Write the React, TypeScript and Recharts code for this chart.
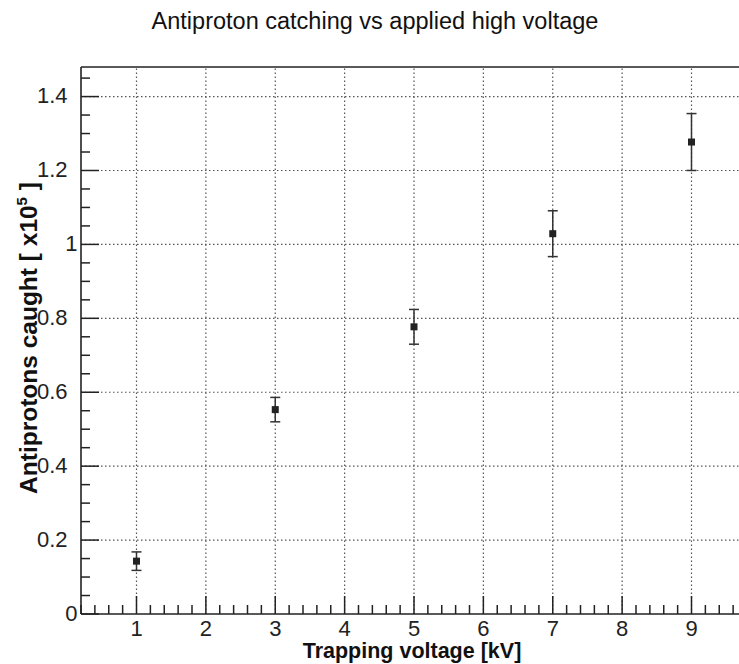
import React from 'react';
import { ScatterChart, Scatter, XAxis, YAxis, ErrorBar, ReferenceLine } from 'recharts';

// measured values (x10^5 antiprotons)
const voltages = [1, 3, 5, 7, 9];
const caught = [0.143, 0.553, 0.777, 1.029, 1.277];
const caughtErr = [0.025, 0.033, 0.047, 0.062, 0.077];

const xMajorTicks = [1, 2, 3, 4, 5, 6, 7, 8, 9];
const xTickLabels = ['1', '2', '3', '4', '5', '6', '7', '8', '9'];
const yMajorTicks = [0, 0.2, 0.4, 0.6, 0.8, 1, 1.2, 1.4];
const yTickLabels = ['0', '0.2', '0.4', '0.6', '0.8', '1', '1.2', '1.4'];

const xDomain: [number, number] = [0.2, 9.8];
const yDomain: [number, number] = [0, 1.48];

const FONT = '"Liberation Sans", Arial, Helvetica, sans-serif';
const INK = '#222';

// minor tick positions: 5 divisions per x unit, 4 per 0.2 in y
const steps = (from: number, to: number, step: number) => {
  const out: number[] = [];
  for (let v = from; v <= to + 1e-9; v += step) out.push(Math.round(v * 1000) / 1000);
  return out;
};
const xTicks = steps(xDomain[0], xDomain[1], 0.2);
const yTicks = steps(yDomain[0], 1.45, 0.05);

const data = voltages.map((v, i) => ({ x: v, y: caught[i], err: caughtErr[i] }));

const XTick = (props: any) => {
  const { x, y, payload } = props;
  const v = payload.value;
  const idx = xMajorTicks.findIndex((m) => Math.abs(m - v) < 1e-6);
  const major = idx >= 0;
  return (
    <g>
      <line x1={x} x2={x} y1={y} y2={y - (major ? 18 : 9)} stroke={INK} strokeWidth={1.5} />
      {major && (
        <text x={x} y={y + 22} textAnchor="middle" fontSize={22} fontFamily={FONT} fill={INK}>
          {xTickLabels[idx]}
        </text>
      )}
    </g>
  );
};

const YTick = (props: any) => {
  const { x, y, payload } = props;
  const v = payload.value;
  const idx = yMajorTicks.findIndex((m) => Math.abs(m - v) < 1e-6);
  const major = idx >= 0;
  const label = major ? yTickLabels[idx] : '';
  return (
    <g>
      <line x1={x} x2={x + (major ? 18 : 9)} y1={y} y2={y} stroke={INK} strokeWidth={1.5} />
      {major && (
        <text
          x={label.includes('.') ? x - 13.5 : x - 3.5}
          y={y + 6.5}
          textAnchor="end"
          fontSize={22}
          fontFamily={FONT}
          fill={INK}
        >
          {label}
        </text>
      )}
    </g>
  );
};

const Marker = (props: any) => (
  <rect x={props.cx - 3.5} y={props.cy - 3.5} width={7} height={7} fill={INK} />
);

export default function App() {
  return (
    <div
      style={{
        position: 'absolute',
        left: 0,
        top: 0,
        width: 739,
        height: 664,
        overflow: 'hidden',
        background: '#fff',
      }}
    >
      <ScatterChart width={749} height={664} margin={{ top: 67, right: 2, bottom: 0, left: 0 }}>
        {xMajorTicks.map((t) => (
          <ReferenceLine key={`gx${t}`} x={t} stroke="#555" strokeWidth={1.2} strokeDasharray="1.5 2.5" />
        ))}
        {yMajorTicks
          .filter((t) => t > 0)
          .map((t) => (
            <ReferenceLine key={`gy${t}`} y={t} stroke="#555" strokeWidth={1.2} strokeDasharray="1.5 2.5" />
          ))}
        <ReferenceLine y={yDomain[1]} stroke={INK} strokeWidth={1.6} />
        <ReferenceLine x={xDomain[1]} stroke={INK} strokeWidth={1.6} />
        <XAxis
          type="number"
          dataKey="x"
          domain={xDomain}
          ticks={xTicks}
          interval={0}
          allowDataOverflow
          height={50}
          tickSize={0}
          tickMargin={0}
          tickLine={false}
          tick={<XTick />}
          axisLine={{ stroke: INK, strokeWidth: 1.6 }}
        />
        <YAxis
          type="number"
          dataKey="y"
          domain={yDomain}
          ticks={yTicks}
          interval={0}
          allowDataOverflow
          width={81}
          tickSize={0}
          tickMargin={0}
          tickLine={false}
          tick={<YTick />}
          axisLine={{ stroke: INK, strokeWidth: 1.6 }}
        />
        <Scatter data={data} shape={<Marker />} isAnimationActive={false}>
          <ErrorBar dataKey="err" direction="y" width={5} stroke="#333" strokeWidth={1.5} />
        </Scatter>
      </ScatterChart>
      <svg
        width={739}
        height={664}
        style={{ position: 'absolute', left: 0, top: 0, pointerEvents: 'none' }}
        fontFamily={FONT}
        fill="#111"
      >
        <text x={375} y={28.5} textAnchor="middle" fontSize={23.5}>
          Antiproton catching vs applied high voltage
        </text>
        <text x={412} y={658} textAnchor="middle" fontSize={21.5} fontWeight="bold">
          Trapping voltage [kV]
        </text>
        <text
          transform="translate(36.5, 338) rotate(-90)"
          textAnchor="middle"
          fontSize={24.5}
          fontWeight="bold"
        >
          Antiprotons caught [ x10
          <tspan dy={-10} fontSize={15}>
            5
          </tspan>
          <tspan dy={10}> ]</tspan>
        </text>
      </svg>
    </div>
  );
}
